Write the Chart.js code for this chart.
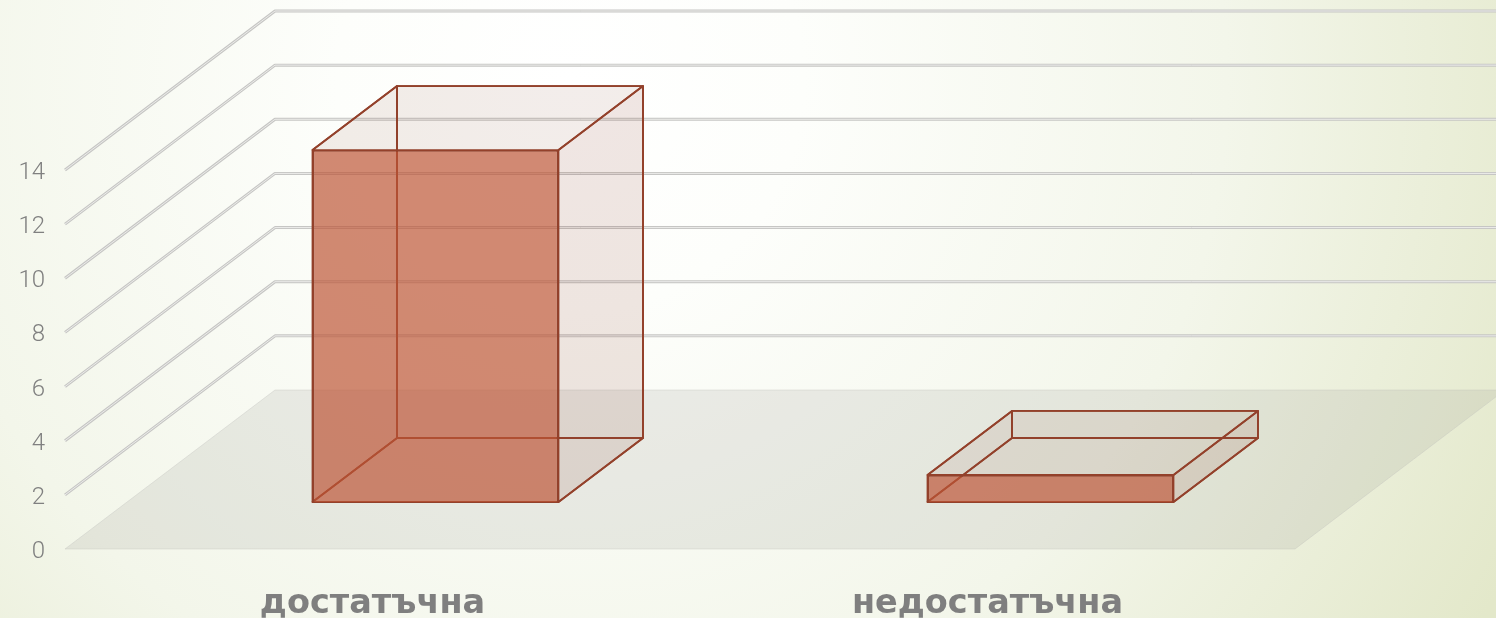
<!DOCTYPE html>
<html>
<head>
<meta charset="utf-8">
<title>chart</title>
<script src="https://cdn.jsdelivr.net/npm/chart.js@4"></script>
<style>
  html, body { margin: 0; padding: 0; width: 1496px; height: 618px; overflow: hidden; }
  body { background: radial-gradient(circle 1060px at 570px 80px, #ffffff 0, #fdfefb 22%, #f3f6ea 62%, #e3e8ca 100%); }
  #wrap { position: absolute; left: 0; top: 0; width: 1496px; height: 618px; }
</style>
</head>
<body>
<div id="wrap"><canvas id="chart"></canvas></div>
<script>
const categories = ['достатъчна', 'недостатъчна'];
const seriesValues = [13, 1];

// perspective of the fake 3d box
const wallDx = 210, wallDy = -159;
const barShiftX = 63, barShiftY = -47;
const boxDx = 84.5, boxDy = -64;
const edgeColor = '#93412b';

function poly(ctx, pts, fill, stroke, width) {
  ctx.beginPath();
  pts.forEach((p, i) => i ? ctx.lineTo(p[0], p[1]) : ctx.moveTo(p[0], p[1]));
  ctx.closePath();
  if (fill) { ctx.fillStyle = fill; ctx.fill(); }
  if (stroke) { ctx.strokeStyle = stroke; ctx.lineWidth = width || 1.8; ctx.stroke(); }
}

function gridPath(ctx, sx, sy, ex) {
  ctx.beginPath();
  ctx.moveTo(sx, sy);
  ctx.lineTo(sx + wallDx, sy + wallDy);
  ctx.lineTo(ex, sy + wallDy);
  ctx.stroke();
}

const box3d = {
  id: 'box3d',
  beforeDatasetsDraw(chart) {
    const { ctx, chartArea, scales } = chart;
    const yScale = scales.y;
    const y0 = yScale.getPixelForValue(0);
    ctx.save();
    // floor
    poly(ctx, [[chartArea.left, y0], [chartArea.right, y0],
      [chartArea.right + wallDx, y0 + wallDy], [chartArea.left + wallDx, y0 + wallDy]],
      'rgba(150,150,140,0.17)', 'rgba(190,190,185,0.35)', 1);
    // grid on side and back wall
    ctx.lineJoin = 'round';
    yScale.ticks.forEach(t => {
      const y = yScale.getPixelForValue(t.value);
      if (t.value === 0) return;
      ctx.strokeStyle = '#c6c6c4';
      ctx.lineWidth = 3;
      gridPath(ctx, chartArea.left, y, 1520);
      ctx.strokeStyle = '#ececea';
      ctx.lineWidth = 1;
      gridPath(ctx, chartArea.left, y, 1520);
    });
    // box faces behind the front one
    chart.getDatasetMeta(0).data.forEach(bar => {
      const x1 = bar.x - bar.width / 2 + barShiftX, x2 = bar.x + bar.width / 2 + barShiftX;
      const top = bar.y + barShiftY, bot = bar.base + barShiftY;
      const fill = 'rgba(140,70,50,0.05)';
      const sideFill = 'rgba(140,70,50,0.09)';
      poly(ctx, [[x1 + boxDx, top + boxDy], [x2 + boxDx, top + boxDy], [x2 + boxDx, bot + boxDy], [x1 + boxDx, bot + boxDy]], fill, edgeColor);
      poly(ctx, [[x1, top], [x1 + boxDx, top + boxDy], [x1 + boxDx, bot + boxDy], [x1, bot]], fill, edgeColor);
      poly(ctx, [[x1, bot], [x2, bot], [x2 + boxDx, bot + boxDy], [x1 + boxDx, bot + boxDy]], fill, edgeColor);
      poly(ctx, [[x2, top], [x2 + boxDx, top + boxDy], [x2 + boxDx, bot + boxDy], [x2, bot]], sideFill, edgeColor);
      poly(ctx, [[x1, top], [x2, top], [x2 + boxDx, top + boxDy], [x1 + boxDx, top + boxDy]], fill, edgeColor);
    });
    ctx.restore();
  },
  // the real bars get moved into the depth of the floor
  beforeDatasetDraw(chart) {
    chart.ctx.save();
    chart.ctx.translate(barShiftX, barShiftY);
  },
  afterDatasetDraw(chart) {
    chart.ctx.restore();
  }
};

new Chart(document.getElementById('chart'), {
  type: 'bar',
  data: {
    labels: categories,
    datasets: [{
      data: seriesValues,
      backgroundColor: 'rgba(190,85,55,0.68)',
      borderColor: edgeColor,
      borderWidth: 1.8,
      barPercentage: 0.4,
      categoryPercentage: 1,
      clip: false
    }]
  },
  options: {
    responsive: true,
    maintainAspectRatio: false,
    animation: false,
    layout: { padding: { top: 170, right: 201, left: 0, bottom: 0 } },
    plugins: { legend: { display: false }, tooltip: { enabled: false } },
    scales: {
      x: {
        grid: { display: false },
        border: { display: false },
        afterFit: s => { s.height = 69; },
        ticks: {
          color: '#7f7f7f',
          padding: 27,
          maxRotation: 0,
          font: { family: 'DejaVu Sans', size: 33.5, weight: '700' }
        }
      },
      y: {
        min: 0,
        max: 14,
        grid: { display: false },
        border: { display: false },
        afterFit: s => { s.width = 65; },
        ticks: {
          stepSize: 2,
          color: '#808080',
          padding: 12,
          labelOffset: 3,
          font: { family: 'Roboto', size: 24, weight: '300' }
        }
      }
    }
  },
  plugins: [box3d]
});
</script>
</body>
</html>
